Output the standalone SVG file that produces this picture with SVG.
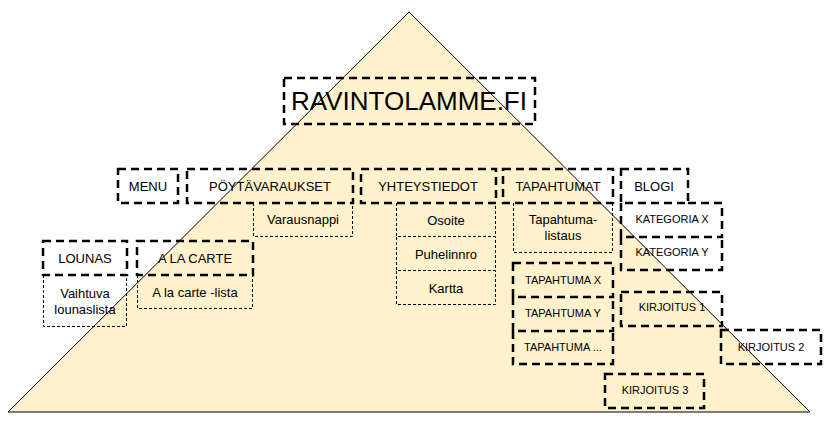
<svg xmlns="http://www.w3.org/2000/svg" width="826" height="421" viewBox="0 0 826 421">
<style>
.bg{fill:#fff2cc;stroke:#000;stroke-width:1}
.h{fill:none;stroke:#000;stroke-width:2.5;stroke-dasharray:8,5}
.t{fill:none;stroke:#000;stroke-width:1;stroke-dasharray:3,2}
text{font-family:"Liberation Sans",Arial,sans-serif;fill:#000;text-anchor:middle}
.f13{font-size:13px}
.f11{font-size:11px}
.f26{font-size:26px}
</style>
<rect width="826" height="421" fill="#fff"/>
<polygon class="bg" points="409,12 810,412 8,412"/>
<g id="ravintolamme"><rect class="h" x="284" y="78" width="251" height="46"/><text class="f26" x="409" y="110">RAVINTOLAMME.FI</text></g>
<g id="menu"><rect class="h" x="118" y="169" width="60" height="34"/><text class="f13" x="148" y="191">MENU</text></g>
<g id="poytavaraukset"><rect class="h" x="187" y="169" width="166" height="34"/><text class="f13" x="270" y="191">PÖYTÄVARAUKSET</text></g>
<g id="varausnappi"><path class="t" d="M253.5,203 V236.5 H352.5 V203"/><text class="f13" x="303" y="224">Varausnappi</text></g>
<g id="lounas"><rect class="h" x="43" y="241" width="84" height="34"/><text class="f13" x="85" y="263">LOUNAS</text></g>
<g id="vaihtuva"><path class="t" d="M43.5,275 V326.5 H126.5 V275"/><text class="f13" x="85" y="298">Vaihtuva</text><text class="f13" x="85" y="314">lounaslista</text></g>
<g id="alacarte"><rect class="h" x="137" y="241" width="116" height="34"/><text class="f13" x="195" y="263">A LA CARTE</text></g>
<g id="alacartelista"><path class="t" d="M137.5,275 V308.5 H252.5 V275"/><text class="f13" x="195" y="297">A la carte -lista</text></g>
<g id="yhteystiedot"><rect class="h" x="361" y="169" width="135" height="34"/><text class="f13" x="428" y="191">YHTEYSTIEDOT</text></g>
<g id="osoite"><path class="t" d="M396.5,203 V236.5 H495.5 V203"/><text class="f13" x="446" y="225">Osoite</text></g>
<g id="puhelinnro"><path class="t" d="M396.5,237 V270.5 H495.5 V237"/><text class="f13" x="446" y="259">Puhelinnro</text></g>
<g id="kartta"><path class="t" d="M396.5,271 V304.5 H495.5 V271"/><text class="f13" x="446" y="293">Kartta</text></g>
<g id="tapahtumat"><rect class="h" x="503" y="169" width="110" height="34"/><text class="f13" x="558" y="191">TAPAHTUMAT</text></g>
<g id="tapahtumalistaus"><path class="t" d="M513.5,203 V252.5 H612.5 V203"/><text class="f13" x="563" y="224">Tapahtuma-</text><text class="f13" x="563" y="240">listaus</text></g>
<g id="tapahtumax"><rect class="h" x="513" y="263" width="100" height="34"/><text class="f11" x="563" y="284">TAPAHTUMA X</text></g>
<g id="tapahtumay"><path class="h" d="M513,297 V331 H613 V297"/><text class="f11" x="563" y="317">TAPAHTUMA Y</text></g>
<g id="tapahtumadots"><path class="h" d="M513,331 V364 H613 V331"/><text class="f11" x="563" y="351">TAPAHTUMA ...</text></g>
<g id="blogi"><rect class="h" x="621" y="169" width="67" height="34"/><text class="f13" x="654" y="191">BLOGI</text></g>
<g id="kategoriax"><path class="h" d="M688,203 H722 V237 H621 V203"/><text class="f11" x="672" y="223">KATEGORIA X</text></g>
<g id="kategoriay"><path class="h" d="M621,237 V270 H722 V237"/><text class="f11" x="672" y="256">KATEGORIA Y</text></g>
<g id="kirjoitus1"><rect class="h" x="621" y="292" width="101" height="34"/><text class="f11" x="672" y="311">KIRJOITUS 1</text></g>
<g id="kirjoitus2"><rect class="h" x="721" y="330" width="100" height="34"/><text class="f11" x="771" y="351">KIRJOITUS 2</text></g>
<g id="kirjoitus3"><rect class="h" x="605" y="374" width="99" height="34"/><text class="f11" x="655" y="394">KIRJOITUS 3</text></g>
<g id="connectors"></g>
</svg>
